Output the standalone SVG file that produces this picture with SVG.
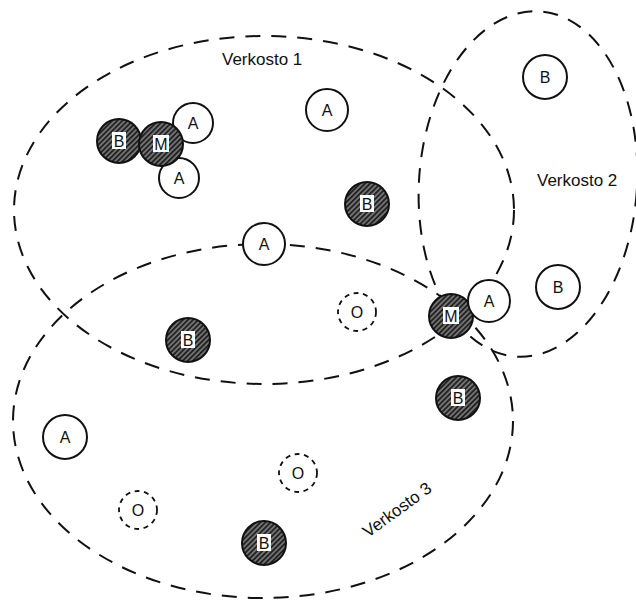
<svg xmlns="http://www.w3.org/2000/svg" width="636" height="600" viewBox="0 0 636 600">
  <defs>
    <pattern id="hatch" patternUnits="userSpaceOnUse" width="3.6" height="3.6" patternTransform="rotate(45)">
      <rect width="3.6" height="3.6" fill="#222"/>
      <line x1="0.9" y1="0" x2="0.9" y2="3.6" stroke="#b4b4b4" stroke-width="1"/>
    </pattern>
    <style>
      .net { fill: none; stroke: #111; stroke-width: 2; stroke-dasharray: 15 11; }
      .plain { fill: #fff; stroke: #111; stroke-width: 2; }
      .hatched { fill: url(#hatch); stroke: #111; stroke-width: 2; }
      .ghost { fill: #fff; stroke: #111; stroke-width: 1.8; stroke-dasharray: 5 4.5; }
      .box { fill: #fff; }
      .lbl { font-family: "Liberation Sans", Arial, sans-serif; font-size: 16px; fill: #111; text-anchor: middle; }
      .title { font-family: "Liberation Sans", Arial, sans-serif; font-size: 17px; fill: #111; }
    </style>
  </defs>

  <!-- network boundaries -->
  <g id="connectors">
    <ellipse class="net" cx="264" cy="210" rx="250" ry="174"/>
    <ellipse class="net" cx="528" cy="184" rx="109" ry="173" transform="rotate(4 528 184)"/>
    <ellipse class="net" cx="263" cy="421" rx="250" ry="177"/>
  </g>

  <!-- network titles -->
  <text class="title" x="222" y="65">Verkosto 1</text>
  <text class="title" x="537" y="186">Verkosto 2</text>
  <text class="title" x="368" y="538" transform="rotate(-36 368 538)">Verkosto 3</text>

  <!-- nodes -->
  <g id="n-a1"><circle class="plain" cx="193" cy="123" r="20"/><text class="lbl" x="193" y="129">A</text></g>
  <g id="n-a2"><circle class="plain" cx="179" cy="178" r="20"/><text class="lbl" x="179" y="184">A</text></g>
  <g id="n-b1"><circle class="hatched" cx="119" cy="141" r="22"/><rect class="box" x="112" y="132" width="14" height="17"/><text class="lbl" x="119" y="147">B</text></g>
  <g id="n-m1"><circle class="hatched" cx="161" cy="144" r="22"/><rect class="box" x="153" y="135" width="16" height="17"/><text class="lbl" x="161" y="150">M</text></g>
  <g id="n-a3"><circle class="plain" cx="327" cy="110" r="21"/><text class="lbl" x="327" y="116">A</text></g>
  <g id="n-b2"><circle class="plain" cx="545" cy="77" r="22"/><text class="lbl" x="545" y="83">B</text></g>
  <g id="n-b3"><circle class="hatched" cx="367" cy="204" r="22"/><rect class="box" x="360" y="195" width="14" height="17"/><text class="lbl" x="367" y="210">B</text></g>
  <g id="n-a4"><circle class="plain" cx="264" cy="244" r="21"/><text class="lbl" x="264" y="250">A</text></g>
  <g id="n-b4"><circle class="plain" cx="558" cy="287" r="22"/><text class="lbl" x="558" y="293">B</text></g>
  <g id="n-o1"><circle class="ghost" cx="357" cy="312" r="19"/><text class="lbl" x="357" y="318">O</text></g>
  <g id="n-m2"><circle class="hatched" cx="451" cy="316" r="22"/><rect class="box" x="443" y="307" width="16" height="17"/><text class="lbl" x="451" y="322">M</text></g>
  <g id="n-a5"><circle class="plain" cx="489" cy="301" r="21"/><text class="lbl" x="489" y="307">A</text></g>
  <g id="n-b5"><circle class="hatched" cx="188" cy="340" r="22"/><rect class="box" x="181" y="331" width="14" height="17"/><text class="lbl" x="188" y="346">B</text></g>
  <g id="n-b6"><circle class="hatched" cx="458" cy="398" r="22"/><rect class="box" x="451" y="389" width="14" height="17"/><text class="lbl" x="458" y="404">B</text></g>
  <g id="n-a6"><circle class="plain" cx="65" cy="437" r="22"/><text class="lbl" x="65" y="443">A</text></g>
  <g id="n-o2"><circle class="ghost" cx="298" cy="473" r="19"/><text class="lbl" x="298" y="479">O</text></g>
  <g id="n-o3"><circle class="ghost" cx="138" cy="510" r="19"/><text class="lbl" x="138" y="516">O</text></g>
  <g id="n-b7"><circle class="hatched" cx="264" cy="543" r="22"/><rect class="box" x="257" y="534" width="14" height="17"/><text class="lbl" x="264" y="549">B</text></g>
</svg>
